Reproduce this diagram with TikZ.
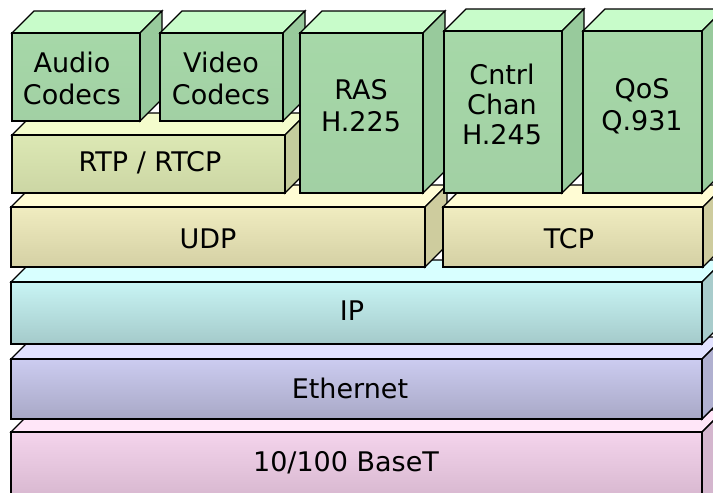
\documentclass[tikz,border=0pt]{standalone}
\usepackage{fontspec}
\setmainfont{DejaVu Sans}
\definecolor{gA}{HTML}{A6D8A8}
\definecolor{gB}{HTML}{C2F6C6}
\definecolor{gC}{HTML}{A2D0A4}
\definecolor{gT}{HTML}{C8FCCA}
\definecolor{gS}{HTML}{98CA9C}
\definecolor{rA}{HTML}{DCE8B4}
\definecolor{rB}{HTML}{EEF8C4}
\definecolor{rC}{HTML}{CCD6A4}
\definecolor{rT}{HTML}{F4FCCC}
\definecolor{rS}{HTML}{C4CC9C}
\definecolor{yA}{HTML}{F0ECC0}
\definecolor{yB}{HTML}{FFFCC8}
\definecolor{yC}{HTML}{D4D0A4}
\definecolor{yT}{HTML}{FFFCD4}
\definecolor{yS}{HTML}{CECC9E}
\definecolor{cA}{HTML}{C8F4F4}
\definecolor{cB}{HTML}{CCFCFC}
\definecolor{cC}{HTML}{A4CACA}
\definecolor{cT}{HTML}{D8FFFF}
\definecolor{cS}{HTML}{A8CCCC}
\definecolor{lA}{HTML}{CCCCF0}
\definecolor{lB}{HTML}{D8D8FC}
\definecolor{lC}{HTML}{A8A8C6}
\definecolor{lT}{HTML}{E2E2FF}
\definecolor{lS}{HTML}{B0B0D0}
\definecolor{pA}{HTML}{F4D4EC}
\definecolor{pB}{HTML}{FCDEF2}
\definecolor{pC}{HTML}{D0B0C8}
\definecolor{pT}{HTML}{FFE6F8}
\definecolor{pS}{HTML}{D4B6CE}
\tikzset{
  edge/.style={draw=black, line width=1.4pt, line join=miter},
  label/.style={font=\fontsize{27}{32}\selectfont, align=center, text=black, inner sep=0pt},
  tight/.style={font=\fontsize{27}{30}\selectfont},
}
% #1 x0, #2 y0, #3 x1, #4 y1, #5 colour prefix
\newcommand\cuboid[5]{%
  \path[edge, fill=#5T] (#1,#2) -- (#1+22,#2-22) -- (#3+22,#2-22) -- (#3,#2) -- cycle;
  \path[edge, fill=#5S] (#3,#2) -- (#3+22,#2-22) -- (#3+22,#4-22) -- (#3,#4) -- cycle;
  \path[edge, top color=#5A, middle color=#5B, bottom color=#5C] (#1,#2) rectangle (#3,#4);
}
\begin{document}
\begin{tikzpicture}[x=1pt, y=-1pt]
\useasboundingbox (0,0) rectangle (713,493);
\fill[white] (0,0) rectangle (713,493);
\clip (0,0) rectangle (713,493);
% bottom layers
\cuboid{11}{432}{702}{515}{p}
\cuboid{11}{359}{702}{419}{l}
\cuboid{11}{282}{702}{344}{c}
\cuboid{11}{207}{425}{267}{y}
\cuboid{443}{207}{703}{267}{y}
\cuboid{12}{135}{285}{193}{r}
\cuboid{12}{33}{140}{121}{g}
\cuboid{160}{33}{283}{121}{g}
\cuboid{300}{33}{423}{193}{g}
\cuboid{444}{31}{562}{193}{g}
\cuboid{583}{31}{702}{193}{g}
% labels
\node[label] (audio) at (72,78) {Audio\\Codecs};
\node[label] (video) at (221,78) {Video\\Codecs};
\node[label] (rtp) at (150,163) {RTP / RTCP};
\node[label] (ras) at (361,106) {RAS\\H.225};
\node[label, tight] (cntrl) at (502,104) {Cntrl\\Chan\\H.245};
\node[label] (qos) at (642,106) {QoS\\Q.931};
\node[label] (udp) at (208,239) {UDP};
\node[label] (tcp) at (569,239) {TCP};
\node[label] (ip) at (352,311) {IP};
\node[label] (eth) at (350,388) {Ethernet};
\node[label] (baset) at (346,463) {10/100 BaseT};
\end{tikzpicture}
\end{document}
